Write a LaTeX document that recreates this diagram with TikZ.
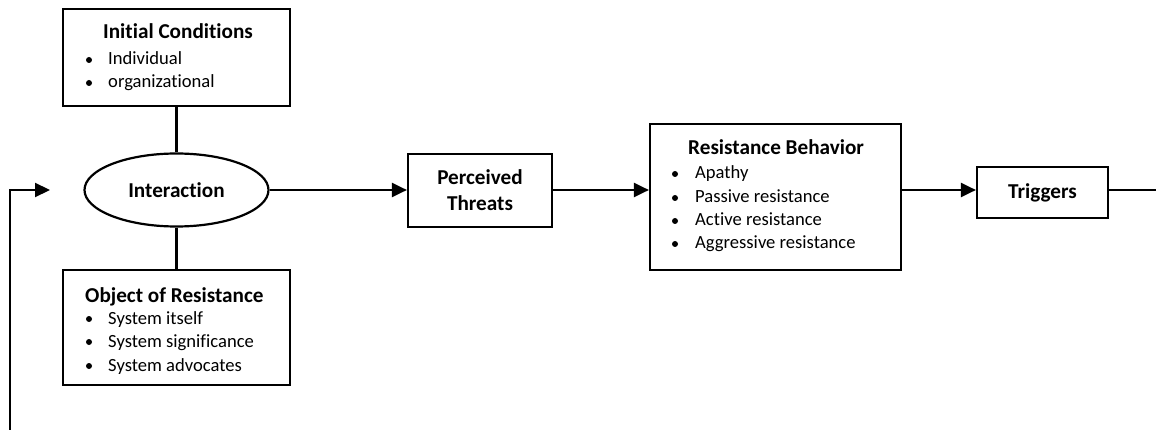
\documentclass[tikz,border=0pt]{standalone}
\usepackage{fontspec}
\setmainfont{Carlito}[Ligatures={NoCommon}]
\usetikzlibrary{arrows.meta,shapes.geometric}

\begin{document}
\begin{tikzpicture}[x=1pt,y=-1pt,
  every node/.style={font=\fontsize{18.6pt}{23pt}\selectfont},
  head/.style={font=\fontsize{21.2pt}{26pt}\selectfont\bfseries},
  box/.style={draw, line width=2.2pt, rectangle, inner sep=0pt},
  oval/.style={draw, line width=2.2pt, ellipse, inner sep=0pt},
  txt/.style={anchor=base west, inner sep=0pt},
  dot/.style={circle, fill, inner sep=0pt, minimum size=6pt},
  conn/.style={line width=2.2pt},
  arr/.style={line width=2.2pt, -{Triangle[length=15pt,width=14pt]}}]
\useasboundingbox (0,0) rectangle (1156,430);

% Initial conditions box with its list
\node[box, minimum width=227pt, minimum height=97pt] (init) at (176.5,57.5) {};
\node[txt, head] (initT) at (103,39) {Initial Conditions};
\node[dot] (initB1) at (89,60) {};
\node[txt] (initI1) at (108,65) {Individual};
\node[dot] (initB2) at (89,83) {};
\node[txt] (initI2) at (108,88) {organizational};

% Interaction ellipse
\node[oval, head, minimum width=184pt, minimum height=73pt] (inter) at (176.5,190) {Interaction};

% Object of resistance box with its list
\node[box, minimum width=227pt, minimum height=115pt] (obj) at (176.5,327.5) {};
\node[txt, head] (objT) at (85,302) {Object of Resistance};
\node[dot] (objB1) at (89,319) {};
\node[txt] (objI1) at (108,324) {System itself};
\node[dot] (objB2) at (89,342) {};
\node[txt] (objI2) at (108,347) {System significance};
\node[dot] (objB3) at (89,366) {};
\node[txt] (objI3) at (108,371) {System advocates};

% Perceived threats
\node[box, head, minimum width=144pt, minimum height=73pt, align=center] (threat) at (480,190.5) {Perceived\\Threats};

% Resistance behavior box with its list
\node[box, minimum width=251pt, minimum height=146pt] (resist) at (775.5,197) {};
\node[txt, head] (resT) at (688,155) {Resistance Behavior};
\node[dot] (resB1) at (675,174) {};
\node[txt] (resI1) at (695,179) {Apathy};
\node[dot] (resB2) at (675,198) {};
\node[txt] (resI2) at (695,203) {Passive resistance};
\node[dot] (resB3) at (675,221) {};
\node[txt] (resI3) at (695,226) {Active resistance};
\node[dot] (resB4) at (675,244) {};
\node[txt] (resI4) at (695,249) {Aggressive resistance};

% Triggers
\node[box, head, minimum width=131pt, minimum height=51pt] (trig) at (1042.5,192.5) {Triggers};

% Free ends of the feedback loop and the outgoing line
\coordinate (fbStart) at (10,430);
\coordinate (fbEnd) at (50,190);
\coordinate (out) at (1156,190);

% Connectors
\draw[conn] (init.south) -- (init.south |- inter.north);
\draw[conn] (obj.north |- inter.south) -- (obj.north);
\draw[arr] (inter.east) -- (inter.east -| threat.west);
\draw[arr] (threat.east |- inter.east) -- (inter.east -| resist.west);
\draw[arr] (inter.east -| resist.east) -- (inter.east -| trig.west);
\draw[conn] (inter.east -| trig.east) -- (out);
\draw[arr] (fbStart) |- (fbEnd);
\end{tikzpicture}
\end{document}
